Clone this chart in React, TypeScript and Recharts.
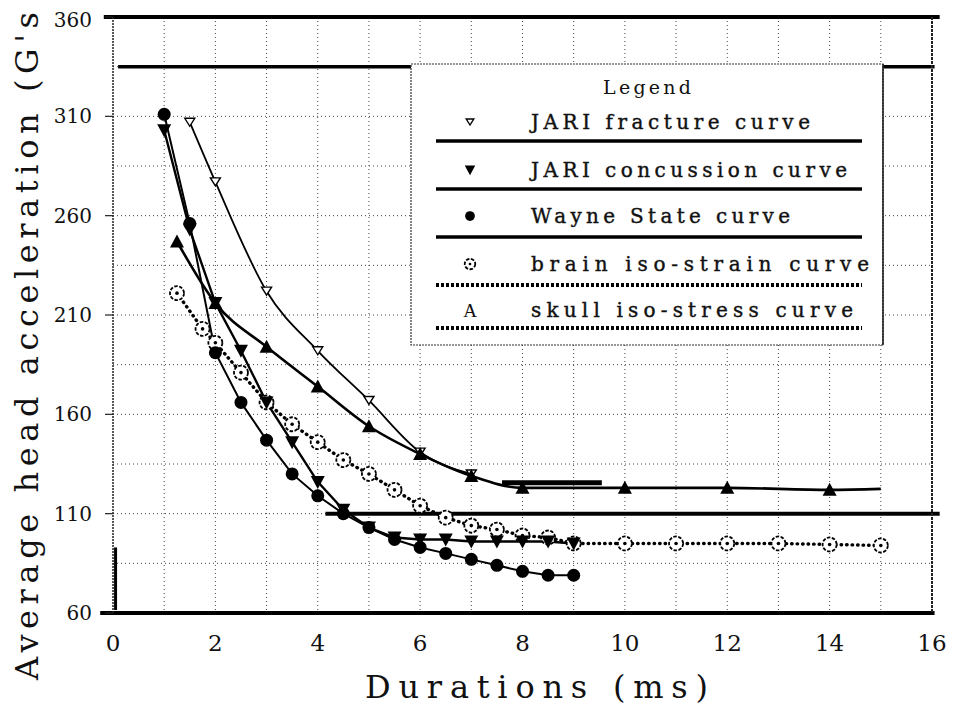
import React from 'react';
import {
  LineChart,
  Line,
  XAxis,
  YAxis,
  CartesianGrid,
  ReferenceLine,
  Legend,
} from 'recharts';

// tick values
const xTicks = [0, 2, 4, 6, 8, 10, 12, 14, 16];
const yTicks = [60, 110, 160, 210, 260, 310, 360];
const gridX = [1, 2, 3, 4, 5, 6, 7, 8, 9, 10, 11, 12, 13, 14, 15, 16];
const gridY = [60, 85, 110, 135, 160, 185, 210, 235, 260, 285, 310, 335, 360];

// JARI fracture curve
const fractureX = [1.5, 2, 3, 4, 5, 6, 7];
const fractureY = [307, 277, 222, 192, 167, 141, 130];

// JARI concussion curve
const concussionX = [1, 1.5, 2, 2.5, 3, 3.5, 4, 4.5, 5, 5.5, 6, 6.5, 7, 7.5, 8, 8.5, 9];
const concussionY = [303, 253, 216, 192, 166, 146, 126, 112, 103, 98, 97, 97, 96, 96, 96, 96, 95];

// Wayne State curve
const wayneX = [1, 1.5, 2, 2.5, 3, 3.5, 4, 4.5, 5, 5.5, 6, 6.5, 7, 7.5, 8, 8.5, 9];
const wayneY = [311, 256, 191, 166, 147, 130, 119, 110, 103, 97, 93, 90, 87, 84, 81, 79, 79];

// brain iso-strain curve
const brainX = [1.25, 1.75, 2, 2.5, 3, 3.5, 4, 4.5, 5, 5.5, 6, 6.5, 7, 7.5, 8, 8.5, 9, 10, 11, 12, 13, 14, 15];
const brainY = [221, 203, 196, 181, 166, 155, 146, 137, 130, 122, 114, 108, 104, 102, 99, 98, 95, 95, 95, 95, 95, 94.5, 94];

// skull iso-stress curve
const skullX = [1.25, 2, 3, 4, 5, 6, 7, 8, 10, 12, 14, 15];
const skullY = [247, 216, 194, 174, 154, 140, 129, 123, 123, 123, 122, 122.5];

const zip = (xs: number[], ys: number[]) => xs.map((x, i) => ({ x, y: ys[i] }));

const fracture = zip(fractureX, fractureY);
const concussion = zip(concussionX, concussionY);
const wayne = zip(wayneX, wayneY);
const brain = zip(brainX, brainY);
const skull = zip(skullX, skullY);

// typewriter-ish serif look of the scan
const FONT = '"DejaVu Serif", "Liberation Serif", serif';
const INK = '#111';

type Shape = 'triDownOpen' | 'triDown' | 'dot' | 'ring' | 'triUp';

function Marker({ shape, cx, cy, s = 1 }: { shape: Shape; cx: number; cy: number; s?: number }) {
  switch (shape) {
    case 'triDownOpen':
      return (
        <path
          d={`M${cx - 5 * s},${cy - 4 * s}L${cx + 5 * s},${cy - 4 * s}L${cx},${cy + 4 * s}Z`}
          fill="#fff"
          stroke="#000"
          strokeWidth={1.4}
        />
      );
    case 'triDown':
      return (
        <path
          d={`M${cx - 7 * s},${cy - 6 * s}L${cx + 7 * s},${cy - 6 * s}L${cx},${cy + 7 * s}Z`}
          fill="#000"
        />
      );
    case 'dot':
      return <circle cx={cx} cy={cy} r={6.5 * s} fill="#000" />;
    case 'ring':
      return (
        <g>
          <circle cx={cx} cy={cy} r={7 * s} fill="#fff" stroke="#000" strokeWidth={1.8} strokeDasharray="3.5 1.5" />
          <circle cx={cx} cy={cy} r={1.8 * s} fill="#000" />
        </g>
      );
    case 'triUp':
      return (
        <path
          d={`M${cx - 7 * s},${cy + 6 * s}L${cx + 7 * s},${cy + 6 * s}L${cx},${cy - 7 * s}Z`}
          fill="#000"
        />
      );
  }
  return null;
}

// dot renderer; optionally skip the last point (line runs on without a marker)
const makeDot = (shape: Shape, skipLast = false, total = 0) => (props: any) => {
  const { cx, cy, index } = props;
  if (cx == null || cy == null || (skipLast && index === total - 1)) return <g key={`d-${index}`} />;
  return (
    <g key={`d-${index}`}>
      <Marker shape={shape} cx={cx} cy={cy} />
    </g>
  );
};

// Legend box drawn like the scanned original
const legendRows = [
  { label: 'JARI fracture curve', shape: 'triDownOpen', end: 400, dotted: false },
  { label: 'JARI concussion curve', shape: 'triDown', end: 437, dotted: false },
  { label: 'Wayne State curve', shape: 'dot', end: 380, dotted: false },
  { label: 'brain iso-strain curve', shape: 'ring', end: 459, dotted: true },
  { label: 'skull iso-stress curve', shape: 'A', end: 443, dotted: true },
];

function LegendBox() {
  const rowY = [59, 107, 153, 201, 247];
  const lineY = [78, 126, 174, 222, 265];
  return (
    <svg width={475} height={284} style={{ display: 'block' }}>
      <rect x={1} y={1} width={472} height={281} fill="#fff" stroke="#333" strokeWidth={1.2} strokeDasharray="2 1" />
      <line x1={473} y1={1} x2={473} y2={282} stroke="#222" strokeWidth={1.6} />
      <text x={237} y={31} textAnchor="middle" fontFamily={FONT} fontSize={19} fill={INK} textLength={88} lengthAdjust="spacing">
        Legend
      </text>
      {legendRows.map((r, i) => (
        <g key={r.label}>
          {r.shape === 'A' ? (
            <text x={60} y={rowY[i] + 7} textAnchor="middle" fontFamily='"Liberation Serif", serif' fontSize={19} fill={INK}>
              A
            </text>
          ) : (
            <Marker shape={r.shape as Shape} cx={60} cy={rowY[i]} s={0.75} />
          )}
          <text
            x={121}
            y={rowY[i] + 7}
            fontFamily={FONT}
            fontSize={20}
            fill={INK}
            stroke={INK}
            strokeWidth={0.4}
            textLength={r.end - 121}
            lengthAdjust="spacing"
          >
            {r.label}
          </text>
          <line
            x1={26}
            y1={lineY[i]}
            x2={452}
            y2={lineY[i]}
            stroke="#000"
            strokeWidth={r.dotted ? 4 : 3.5}
            strokeDasharray={r.dotted ? '3 2' : undefined}
          />
        </g>
      ))}
    </svg>
  );
}

const yTitle = () => (
  <text
    x={30}
    y={672}
    transform="rotate(-90, 30, 672)"
    fontFamily={FONT}
    fontSize={32}
    fill={INK}
    textLength={668}
    lengthAdjust="spacing"
  >
    Average head acceleration (G's
  </text>
);

const xTitle = () => (
  <text
    x={357}
    y={690}
    fontFamily={FONT}
    fontSize={32}
    fill={INK}
    textLength={343}
    lengthAdjust="spacing"
  >
    Durations (ms)
  </text>
);

export default function App() {
  return (
    <div style={{ width: 946, height: 700, background: '#fff', position: 'relative' }}>
      <LineChart width={946} height={700} margin={{ top: 9, right: 22, bottom: 55, left: 35 }}>
        <CartesianGrid
          stroke="#444"
          strokeDasharray="1 3"
          strokeWidth={1}
          verticalValues={gridX}
          horizontalValues={gridY}
        />
        <XAxis
          type="number"
          dataKey="x"
          domain={[0, 16]}
          ticks={xTicks}
          allowDataOverflow
          height={40}
          tickLine={false}
          tickSize={0}
          tickMargin={22}
          axisLine={false}
          tick={{ fontFamily: FONT, fontSize: 23, fill: INK }}
          label={{ content: xTitle }}
        />
        <YAxis
          type="number"
          domain={[60, 360]}
          ticks={yTicks}
          allowDataOverflow
          width={70}
          tickSize={8}
          tickMargin={13}
          axisLine={{ stroke: '#222', strokeDasharray: '2 1', strokeWidth: 1.5 }}
          tickLine={{ stroke: '#222', strokeWidth: 1.2 }}
          tick={{ fontFamily: FONT, fontSize: 20, fill: INK }}
          label={{ content: yTitle }}
        />

        {/* heavy rules left by the scan */}
        <ReferenceLine segment={[{ x: -0.18, y: 360 }, { x: 16.15, y: 360 }]} stroke="#000" strokeWidth={4} ifOverflow="visible" />
        <ReferenceLine segment={[{ x: 0.1, y: 335 }, { x: 16.05, y: 335 }]} stroke="#000" strokeWidth={3.5} ifOverflow="visible" />
        <ReferenceLine segment={[{ x: 4.15, y: 110 }, { x: 16.15, y: 110 }]} stroke="#000" strokeWidth={4} ifOverflow="visible" />
        <ReferenceLine segment={[{ x: -0.25, y: 60 }, { x: 16.05, y: 60 }]} stroke="#000" strokeWidth={4} ifOverflow="visible" />
        <ReferenceLine segment={[{ x: 0.05, y: 93 }, { x: 0.05, y: 61.5 }]} stroke="#000" strokeWidth={3} ifOverflow="visible" />
        <ReferenceLine segment={[{ x: 7.6, y: 125.5 }, { x: 9.55, y: 125.5 }]} stroke="#000" strokeWidth={5} ifOverflow="visible" />
        <ReferenceLine segment={[{ x: 16, y: 360 }, { x: 16, y: 60 }]} stroke="#222" strokeWidth={2} strokeDasharray="3 1" ifOverflow="visible" />

        <Line
          data={fracture}
          dataKey="y"
          name="JARI fracture curve"
          type="monotone"
          stroke="#000"
          strokeWidth={1.8}
          dot={makeDot('triDownOpen')}
          activeDot={false}
          isAnimationActive={false}
        />
        <Line
          data={skull}
          dataKey="y"
          name="skull iso-stress curve"
          type="monotone"
          stroke="#000"
          strokeWidth={2.6}
          dot={makeDot('triUp', true, skull.length)}
          activeDot={false}
          isAnimationActive={false}
        />
        <Line
          data={brain}
          dataKey="y"
          name="brain iso-strain curve"
          type="linear"
          stroke="#000"
          strokeWidth={3.4}
          strokeDasharray="0.5 5"
          strokeLinecap="round"
          dot={makeDot('ring')}
          activeDot={false}
          isAnimationActive={false}
        />
        <Line
          data={concussion}
          dataKey="y"
          name="JARI concussion curve"
          type="linear"
          stroke="#000"
          strokeWidth={2.4}
          dot={makeDot('triDown')}
          activeDot={false}
          isAnimationActive={false}
        />
        <Line
          data={wayne}
          dataKey="y"
          name="Wayne State curve"
          type="linear"
          stroke="#000"
          strokeWidth={2}
          dot={makeDot('dot')}
          activeDot={false}
          isAnimationActive={false}
        />

        <Legend
          layout="vertical"
          align="center"
          verticalAlign="middle"
          wrapperStyle={{ left: 402, top: 55, width: 475, height: 284 }}
          content={() => <LegendBox />}
        />
      </LineChart>
    </div>
  );
}
